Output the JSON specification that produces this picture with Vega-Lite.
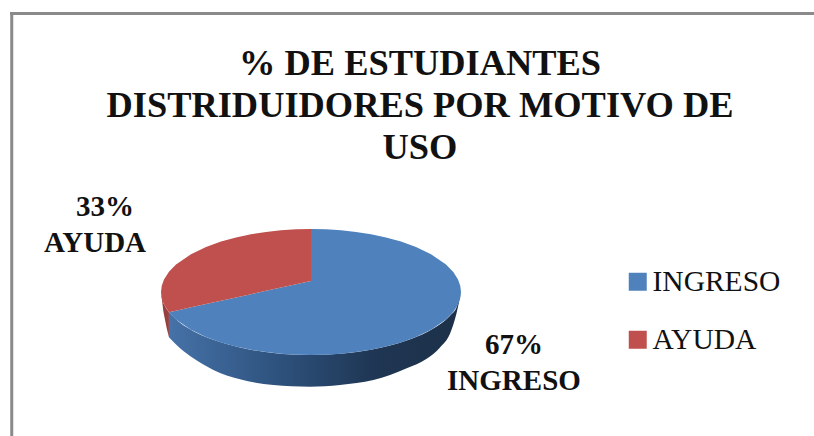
{
"$schema":"https://vega.github.io/schema/vega-lite/v6.json",
"width":814,"height":436,"padding":0,"autosize":"none",
"background":"white",
"config":{"view":{"stroke":null}},
"title":{"text":["% DE ESTUDIANTES","DISTRIDUIDORES POR MOTIVO DE","USO"],"font":"Liberation Serif","fontSize":36.4,"fontWeight":"bold","color":"#111111","lineHeight":42,"anchor":"start","align":"center","baseline":"alphabetic","orient":"top","frame":"group","offset":-195,"dx":420},
"datasets":{
"superficie":[
{"motivo":"INGRESO","x":-0.947,"y":-0.321,"y2":-0.321},
{"motivo":"INGRESO","x":-0.9,"y":-0.297,"y2":-0.436},
{"motivo":"INGRESO","x":-0.8,"y":-0.244,"y2":-0.6},
{"motivo":"INGRESO","x":-0.7,"y":-0.192,"y2":-0.714},
{"motivo":"INGRESO","x":-0.6,"y":-0.139,"y2":-0.8},
{"motivo":"INGRESO","x":-0.5,"y":-0.087,"y2":-0.866},
{"motivo":"INGRESO","x":-0.4,"y":-0.035,"y2":-0.917},
{"motivo":"INGRESO","x":-0.3,"y":0.018,"y2":-0.954},
{"motivo":"INGRESO","x":-0.2,"y":0.07,"y2":-0.98},
{"motivo":"INGRESO","x":-0.1,"y":0.123,"y2":-0.995},
{"motivo":"INGRESO","x":0,"y":0.175,"y2":-1},
{"motivo":"INGRESO","x":0,"y":1,"y2":-1},
{"motivo":"INGRESO","x":0.1,"y":0.995,"y2":-0.995},
{"motivo":"INGRESO","x":0.2,"y":0.98,"y2":-0.98},
{"motivo":"INGRESO","x":0.3,"y":0.954,"y2":-0.954},
{"motivo":"INGRESO","x":0.4,"y":0.917,"y2":-0.917},
{"motivo":"INGRESO","x":0.5,"y":0.866,"y2":-0.866},
{"motivo":"INGRESO","x":0.6,"y":0.8,"y2":-0.8},
{"motivo":"INGRESO","x":0.7,"y":0.714,"y2":-0.714},
{"motivo":"INGRESO","x":0.8,"y":0.6,"y2":-0.6},
{"motivo":"INGRESO","x":0.9,"y":0.436,"y2":-0.436},
{"motivo":"INGRESO","x":0.95,"y":0.312,"y2":-0.312},
{"motivo":"INGRESO","x":0.98,"y":0.199,"y2":-0.199},
{"motivo":"INGRESO","x":0.995,"y":0.1,"y2":-0.1},
{"motivo":"INGRESO","x":1,"y":0,"y2":0},
{"motivo":"AYUDA","x":-1,"y":0,"y2":0},
{"motivo":"AYUDA","x":-0.995,"y":0.1,"y2":-0.1},
{"motivo":"AYUDA","x":-0.98,"y":0.199,"y2":-0.199},
{"motivo":"AYUDA","x":-0.947,"y":0.321,"y2":-0.321},
{"motivo":"AYUDA","x":-0.9,"y":0.436,"y2":-0.297},
{"motivo":"AYUDA","x":-0.8,"y":0.6,"y2":-0.244},
{"motivo":"AYUDA","x":-0.7,"y":0.714,"y2":-0.192},
{"motivo":"AYUDA","x":-0.6,"y":0.8,"y2":-0.139},
{"motivo":"AYUDA","x":-0.5,"y":0.866,"y2":-0.087},
{"motivo":"AYUDA","x":-0.4,"y":0.917,"y2":-0.035},
{"motivo":"AYUDA","x":-0.3,"y":0.954,"y2":0.018},
{"motivo":"AYUDA","x":-0.2,"y":0.98,"y2":0.07},
{"motivo":"AYUDA","x":-0.1,"y":0.995,"y2":0.123},
{"motivo":"AYUDA","x":0,"y":1,"y2":0.175}
],
"ladoIngreso":[
{"x":-0.947,"y":-0.321,"y2":-0.72},
{"x":-0.873,"y":-0.488,"y2":-0.894},
{"x":-0.784,"y":-0.621,"y2":-1.053},
{"x":-0.651,"y":-0.759,"y2":-1.238},
{"x":-0.473,"y":-0.881,"y2":-1.386},
{"x":-0.251,"y":-0.968,"y2":-1.476},
{"x":-0.007,"y":-1,"y2":-1.503},
{"x":0.193,"y":-0.981,"y2":-1.476},
{"x":0.416,"y":-0.909,"y2":-1.397},
{"x":0.638,"y":-0.77,"y2":-1.21},
{"x":0.771,"y":-0.637,"y2":-1.06},
{"x":0.86,"y":-0.51,"y2":-0.88},
{"x":0.927,"y":-0.375,"y2":-0.66},
{"x":0.971,"y":-0.239,"y2":-0.33},
{"x":1,"y":0,"y2":0}
],
"ladoAyuda":[
{"x":-1,"y":0,"y2":0},
{"x":-0.984,"y":-0.178,"y2":-0.312},
{"x":-0.962,"y":-0.273,"y2":-0.577},
{"x":-0.947,"y":-0.321,"y2":-0.72}
],
"etiquetas":[
{"texto":"33%","x":-1.373,"y":1.349},
{"texto":"AYUDA","x":-1.44,"y":0.778},
{"texto":"67%","x":1.353,"y":-0.841},
{"texto":"INGRESO","x":1.353,"y":-1.413}
]
},
"encoding":{
"x":{"field":"x","type":"quantitative","axis":null,"scale":{"domain":[-2.0733,3.3533],"nice":false,"zero":false}},
"y":{"field":"y","type":"quantitative","axis":null,"stack":null,"scale":{"domain":[-2.2857,4.635],"nice":false,"zero":false}}
},
"layer":[
{"data":{"name":"ladoAyuda"},"mark":{"type":"area","color":"#98403d"},"encoding":{"y2":{"field":"y2"}}},
{"data":{"name":"ladoIngreso"},"mark":{"type":"area","interpolate":"monotone","color":{"gradient":"linear","x1":0,"y1":0,"x2":1,"y2":0,"stops":[{"offset":0,"color":"#4672a8"},{"offset":0.35,"color":"#2f5480"},{"offset":0.7,"color":"#1f3654"},{"offset":1,"color":"#1c3048"}]}},"encoding":{"y2":{"field":"y2"}}},
{"data":{"name":"superficie"},"mark":{"type":"area"},"encoding":{
"y2":{"field":"y2"},
"color":{"field":"motivo","type":"nominal","scale":{"domain":["INGRESO","AYUDA"],"range":["#4f81bd","#c0504d"]},
"legend":{"title":null,"orient":"none","legendX":623,"legendY":267,"symbolType":"square","symbolSize":324,"symbolStrokeWidth":0,"symbolOpacity":1,"labelFont":"Liberation Serif","labelFontSize":29.5,"labelColor":"#111111","labelLimit":200,"labelOffset":0,"rowPadding":27}}}},
{"data":{"name":"etiquetas"},"mark":{"type":"text","font":"Liberation Serif","fontWeight":"bold","fontSize":29,"color":"#111111","align":"center","baseline":"middle"},"encoding":{"text":{"field":"texto"}}},
{"data":{"values":[{"x":-1.995}]},"mark":{"type":"rule","color":"#8a8a8a","size":3},"encoding":{"y":{"value":13},"y2":{"value":436}}},
{"data":{"values":[{"y":4.42}]},"mark":{"type":"rule","color":"#8a8a8a","size":3},"encoding":{"x":{"value":10},"x2":{"value":814}}}
]
}
